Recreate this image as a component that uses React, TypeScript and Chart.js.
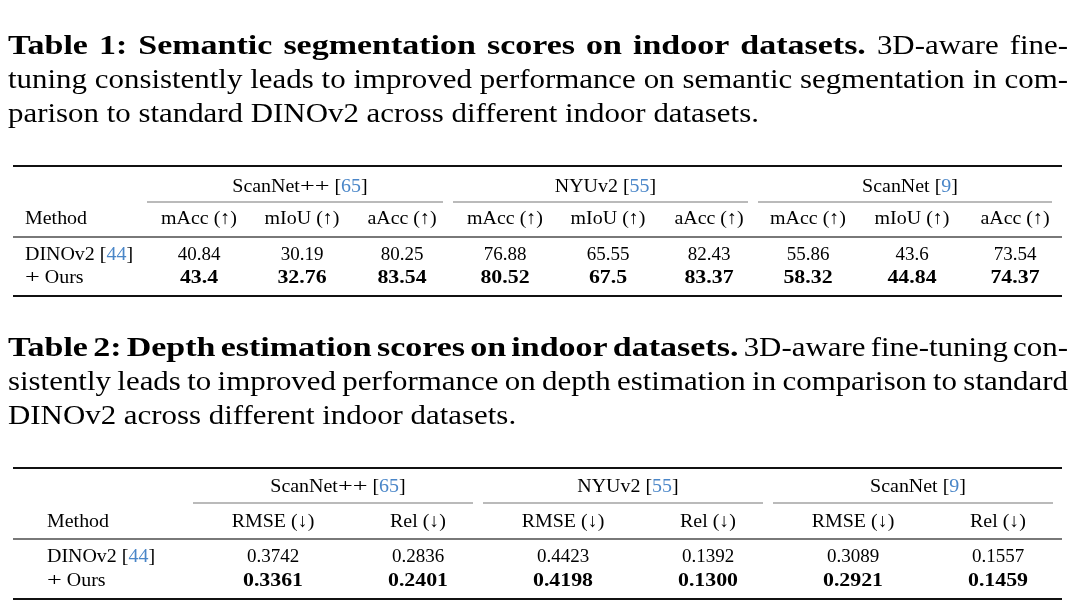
import React, { useEffect, useRef } from 'react';
import { Chart, registerables } from 'chart.js';

Chart.register(...registerables);

const W = 1080;
const H = 605;

// ---------- data ----------
const datasets = ['ScanNet', 'NYUv2', 'ScanNet'];
const datasetSuffix = ['++', '', ''];
const datasetCites = ['65', '55', '9'];
const methods = ['DINOv2', 'Ours'];
const methodPrefix = ['', '+'];
const methodCites = ['44', ''];

const t1Metrics = ['mAcc (↑)', 'mIoU (↑)', 'aAcc (↑)'];
const t1Dinov2 = [40.84, 30.19, 80.25, 76.88, 65.55, 82.43, 55.86, 43.6, 73.54];
const t1Ours = [43.4, 32.76, 83.54, 80.52, 67.5, 83.37, 58.32, 44.84, 74.37];

const t2Metrics = ['RMSE (↓)', 'Rel (↓)'];
const t2Dinov2 = [0.3742, 0.2836, 0.4423, 0.1392, 0.3089, 0.1557];
const t2Ours = [0.3361, 0.2401, 0.4198, 0.13, 0.2921, 0.1459];

const cap1Lines = [
  [
    { t: 'Table 1: Semantic segmentation scores on indoor datasets.', b: true },
    { t: '3D-aware fine-', b: false },
  ],
  [{ t: 'tuning consistently leads to improved performance on semantic segmentation in com-', b: false }],
  [{ t: 'parison to standard DINOv2 across different indoor datasets.', b: false }],
];
const cap2Lines = [
  [
    { t: 'Table 2: Depth estimation scores on indoor datasets.', b: true },
    { t: '3D-aware fine-tuning con-', b: false },
  ],
  [{ t: 'sistently leads to improved performance on depth estimation in comparison to standard', b: false }],
  [{ t: 'DINOv2 across different indoor datasets.', b: false }],
];

// ---------- layout (positions / styles) ----------
const SERIF = '"Liberation Serif", "DejaVu Serif", serif';
const CITE = '#4a86c8';
const CAP = { size: 28, left: 8, right: 1068, lastW1: 755, lastW2: 504, base1: [54, 88, 122], base2: [356, 390, 424] };
const TAB = { size: 19, sx: 1.05, sxb: 1.15, plusSx: 1.38 };
const L1 = {
  top: 166, group: 187, cmid: 202, head: 219, mid: 237, rows: [255, 278], bottom: 296,
  left: 13, right: 1062, labelX: 25,
  cols: [199, 302, 402, 505, 608, 709, 808, 912, 1015],
  spans: [[147, 453], [453, 758], [758, 1062]],
};
const L2 = {
  top: 468, group: 487, cmid: 503, head: 522, mid: 539, rows: [557, 581], bottom: 599,
  left: 13, right: 1062, labelX: 47,
  cols: [273, 418, 563, 708, 853, 998],
  spans: [[193, 483], [483, 773], [773, 1063]],
};

type Seg = { t: string; c?: string; b?: boolean; s?: number };

function font(size: number, bold: boolean) {
  return `${bold ? 'bold ' : ''}${size}px ${SERIF}`;
}

function drawSegs(ctx: CanvasRenderingContext2D, segs: Seg[], x: number, y: number, align: 'left' | 'center', size: number, sx: number, sxb: number) {
  ctx.textBaseline = 'middle';
  ctx.textAlign = 'left';
  const scaleOf = (s: Seg) => (s.s !== undefined ? s.s : s.b ? sxb : sx);
  const widths = segs.map((s) => {
    ctx.font = font(size, !!s.b);
    return ctx.measureText(s.t).width * scaleOf(s);
  });
  const total = widths.reduce((a, b) => a + b, 0);
  let cx = align === 'center' ? x - total / 2 : x;
  segs.forEach((s, i) => {
    ctx.font = font(size, !!s.b);
    ctx.fillStyle = s.c || '#000';
    ctx.save();
    ctx.translate(cx, y);
    ctx.scale(scaleOf(s), 1);
    ctx.fillText(s.t, 0, 0);
    ctx.restore();
    cx += widths[i];
  });
}

function drawCaption(ctx: CanvasRenderingContext2D, lines: { t: string; b: boolean }[][], baselines: number[], sx: number, sxb: number, X: (v: number) => number, Y: (v: number) => number) {
  ctx.textBaseline = 'alphabetic';
  ctx.textAlign = 'left';
  lines.forEach((line, li) => {
    const words: { t: string; b: boolean; w: number }[] = [];
    line.forEach((seg) => {
      ctx.font = font(CAP.size, seg.b);
      seg.t.split(' ').forEach((w) => {
        words.push({ t: w, b: seg.b, w: ctx.measureText(w).width * (seg.b ? sxb : sx) });
      });
    });
    const last = li === lines.length - 1;
    const total = words.reduce((a, w) => a + w.w, 0);
    const left = X(CAP.left);
    const right = X(CAP.right);
    let gap: number;
    if (last) {
      ctx.font = font(CAP.size, false);
      gap = ctx.measureText(' ').width * sx;
    } else {
      gap = (right - left - total) / (words.length - 1);
    }
    let cx = left;
    const y = Y(baselines[li]);
    words.forEach((w) => {
      ctx.font = font(CAP.size, w.b);
      ctx.fillStyle = '#000';
      ctx.save();
      ctx.translate(cx, y);
      ctx.scale(w.b ? sxb : sx, 1);
      ctx.fillText(w.t, 0, 0);
      ctx.restore();
      cx += w.w + gap;
    });
  });
}

function rule(ctx: CanvasRenderingContext2D, x0: number, x1: number, y: number, h: number, color: string) {
  ctx.fillStyle = color;
  ctx.fillRect(x0, y - h / 2, x1 - x0, h);
}

function drawTable(ctx: CanvasRenderingContext2D, L: typeof L1, metrics: string[], rowsData: number[][], fmt: (v: number) => string, X: (v: number) => number, Y: (v: number) => number) {
  const s = TAB.size;
  rule(ctx, X(L.left), X(L.right), Y(L.top), 2, '#111');
  rule(ctx, X(L.left), X(L.right), Y(L.mid), 1.2, '#222');
  rule(ctx, X(L.left), X(L.right), Y(L.bottom), 2, '#111');
  datasets.forEach((d, gi) => {
    const [a, b] = L.spans[gi];
    const segs: Seg[] = [{ t: d }];
    if (datasetSuffix[gi]) segs.push({ t: datasetSuffix[gi], s: TAB.plusSx });
    segs.push({ t: ' [' }, { t: datasetCites[gi], c: CITE }, { t: ']' });
    drawSegs(ctx, segs, X((a + b) / 2), Y(L.group), 'center', s, TAB.sx, TAB.sxb);
    rule(ctx, X(a), X(b - 10), Y(L.cmid), 1, '#777');
  });
  drawSegs(ctx, [{ t: 'Method' }], X(L.labelX), Y(L.head), 'left', s, TAB.sx, TAB.sxb);
  L.cols.forEach((cx, ci) => {
    drawSegs(ctx, [{ t: metrics[ci % metrics.length] }], X(cx), Y(L.head), 'center', s, TAB.sx, TAB.sxb);
  });
  methods.forEach((m, ri) => {
    const segs: Seg[] = [];
    if (methodPrefix[ri]) segs.push({ t: methodPrefix[ri], s: TAB.plusSx }, { t: ' ' });
    segs.push({ t: m });
    if (methodCites[ri]) segs.push({ t: ' [' }, { t: methodCites[ri], c: CITE }, { t: ']' });
    drawSegs(ctx, segs, X(L.labelX), Y(L.rows[ri]), 'left', s, TAB.sx, TAB.sxb);
    rowsData[ri].forEach((v, ci) => {
      drawSegs(ctx, [{ t: fmt(v), b: ri === 1 }], X(L.cols[ci]), Y(L.rows[ri]), 'center', s, 1.0, TAB.sxb);
    });
  });
}

const tablePlugin = {
  id: 'tables',
  beforeDraw(chart: any) {
    const ctx = chart.ctx as CanvasRenderingContext2D;
    ctx.save();
    ctx.fillStyle = '#fff';
    ctx.fillRect(0, 0, chart.width, chart.height);
    ctx.restore();
  },
  afterDraw(chart: any) {
    const ctx = chart.ctx as CanvasRenderingContext2D;
    const xs = chart.scales.x;
    const ys = chart.scales.y;
    const X = (v: number) => xs.getPixelForValue(v);
    const Y = (v: number) => ys.getPixelForValue(v);
    ctx.save();
    ctx.font = font(CAP.size, false);
    const n1 = ctx.measureText(cap1Lines[2][0].t).width;
    const n2 = ctx.measureText(cap2Lines[2][0].t).width;
    const sx = (CAP.lastW1 + CAP.lastW2) / (n1 + n2);
    const sxb = sx * 1.1;
    drawCaption(ctx, cap1Lines, CAP.base1, sx, sxb, X, Y);
    drawCaption(ctx, cap2Lines, CAP.base2, sx, sxb, X, Y);
    drawTable(ctx, L1, t1Metrics, [t1Dinov2, t1Ours], (v) => String(v), X, Y);
    drawTable(ctx, L2 as any, t2Metrics, [t2Dinov2, t2Ours], (v) => v.toFixed(4), X, Y);
    ctx.restore();
  },
};

export default function App() {
  const ref = useRef<HTMLCanvasElement | null>(null);
  useEffect(() => {
    if (!ref.current) return;
    const chart = new Chart(ref.current, {
      type: 'scatter',
      data: { datasets: [] },
      options: {
        animation: false,
        responsive: false,
        devicePixelRatio: 1,
        events: [],
        layout: { padding: 0 },
        plugins: { legend: { display: false }, tooltip: { enabled: false }, title: { display: false } },
        scales: {
          x: { type: 'linear', min: 0, max: W, display: false },
          y: { type: 'linear', min: 0, max: H, reverse: true, display: false },
        },
      },
      plugins: [tablePlugin],
    } as any);
    return () => chart.destroy();
  }, []);
  return (
    <div style={{ position: 'fixed', left: 0, top: 0, width: W, height: H, background: '#fff' }}>
      <canvas ref={ref} width={W} height={H} style={{ display: 'block', width: W, height: H }} />
    </div>
  );
}
